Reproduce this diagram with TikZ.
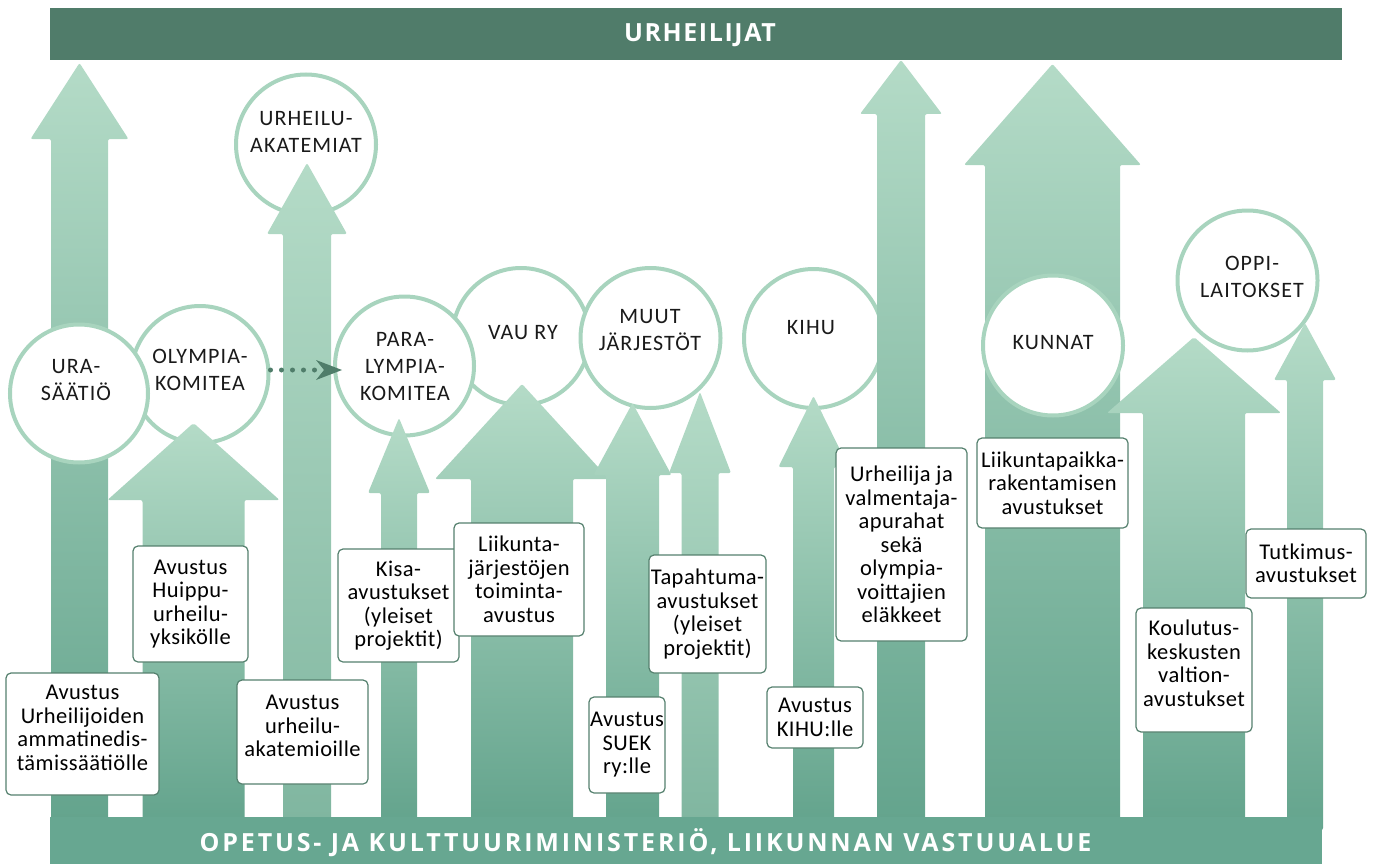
\documentclass[tikz,border=0pt]{standalone}
\usepackage{fontspec}
\setmainfont{Carlito}
\newfontfamily\barfont[LetterSpace=11.4]{Open Sans}
\newfontfamily\topfont[LetterSpace=6.4]{Open Sans}
\newfontfamily\ringfont[LetterSpace=5]{Carlito}
\newfontfamily\boxfont[LetterSpace=2]{Carlito}
\usetikzlibrary{arrows.meta}
\definecolor{barTop}{HTML}{507C6A}
\definecolor{barBot}{HTML}{67A791}
\definecolor{arrLight}{HTML}{B4DBC7}
\definecolor{arrDark}{HTML}{64A48D}
\definecolor{arrMid}{HTML}{80B6A0}
\definecolor{ringc}{HTML}{A8D4BE}
\definecolor{boxline}{HTML}{55806E}
\definecolor{dotc}{HTML}{4F7D6A}
\definecolor{inkc}{HTML}{1A1A1A}
\tikzset{
  ring/.style={circle, draw=ringc, line width=4pt, fill=white, minimum size=#1, inner sep=0pt},
  ctext/.style={align=center, font=\ringfont\fontsize{22}{27}\selectfont, text=inkc, inner sep=0pt},
  fundbox/.style={draw=boxline, line width=1.2pt, fill=white, rounded corners=5pt, align=center,
    font=\boxfont\fontsize{22.5}{23.5}\selectfont, text=black, inner sep=0pt},
  bartext/.style={font=\barfont\bfseries\fontsize{25}{30}\selectfont, text=white, inner sep=0pt},
  toptext/.style={font=\topfont\bfseries\fontsize{25}{30}\selectfont, text=white, inner sep=0pt},
  dotline/.style={draw=dotc, line width=5pt, line cap=round, dash pattern=on 0pt off 11pt,
    -{Stealth[length=26pt, width=20pt, inset=8pt, line width=0pt]}, shorten >=-9pt}
}
% #1 centre x, #2 tip y, #3 head half width, #4 head base y, #5 shaft half width, #6 bottom y, #7 bottom colour
\newcommand{\grarrow}[7]{%
  \path[rounded corners=2pt, top color=arrLight, bottom color=#7]
    (#1,#2) -- ({#1+#3},#4) -- ({#1+#5},#4) -- ({#1+#5},#6) -- ({#1-#5},#6)
    -- ({#1-#5},#4) -- ({#1-#3},#4) -- cycle;}
\begin{document}
\begin{tikzpicture}[x=1pt,y=-1pt]
\useasboundingbox (0,0) rectangle (1375,864);

% top bar
\node[fill=barTop, minimum width=1292pt, minimum height=52pt, inner sep=0pt] (topbar) at (696,34) {};
\node[toptext] (topbar-t) at (700,35) {URHEILIJAT};

% arrow 1 and circles
\grarrow{79.5}{63}{49}{139}{28.5}{820}{arrDark}
\node[ring=137pt] (olym) at (200,374.5) {};
\node[ring=138pt] (ura) at (79,393.5) {};
\node[ctext] (olym-t) at (200,370) {OLYMPIA-\\KOMITEA};
\node[ctext] (ura-t) at (76,380) {URA-\\SÄÄTIÖ};

% arrow 2
\grarrow{193.5}{423}{86}{500}{51}{820}{arrDark}

% akatemiat
\node[ring=140pt] (aka) at (306,144.5) {};
\node[ctext] (aka-t) at (306,132) {URHEILU-\\AKATEMIAT};
\grarrow{307}{163}{40}{234}{24}{820}{arrMid}

% middle circles
\node[ring=137pt] (vau) at (521,336.5) {};
\node[ring=139pt] (para) at (404.5,366) {};
\node[ring=140pt] (muut) at (650.5,338) {};
\node[ctext] (vau-t) at (523,333) {VAU RY};
\node[ctext] (para-t) at (405,367) {PARA-\\LYMPIA-\\KOMITEA};
\node[ctext] (muut-t) at (650,330.5) {MUUT\\JÄRJESTÖT};

% dotted connector
\coordinate (dotrow) at (0,370);
\draw[dotline] (olym.east |- dotrow) -- (para.west |- dotrow);

% arrows 4-7
\grarrow{399}{418}{31}{493}{18}{820}{arrDark}
\grarrow{522}{384}{87}{479}{51}{820}{arrDark}
\grarrow{632.5}{403}{39}{475}{26.5}{820}{arrDark}
\grarrow{700}{392}{31}{473}{18.5}{820}{arrMid}

% KIHU
\node[ring=139pt] (kihu) at (813.5,338.5) {};
\node[ctext] (kihu-t) at (811,328) {KIHU};
\grarrow{813.5}{396}{35}{467}{20.5}{820}{arrDark}
\grarrow{901}{60}{41}{114}{24}{820}{arrDark}

% KUNNAT
\grarrow{1052.5}{64}{88.5}{165}{67.5}{820}{arrDark}
\node[ring=140pt] (kunnat) at (1053,345.5) {};
\node[ctext] (kunnat-t) at (1053,343) {KUNNAT};

% OPPILAITOKSET
\node[ring=140pt] (oppi) at (1247.5,280.5) {};
\node[ctext] (oppi-t) at (1252,276.5) {OPPI-\\LAITOKSET};
\grarrow{1194}{337}{87}{413}{51}{820}{arrDark}
\grarrow{1305}{323}{31}{380}{18}{830}{arrDark}

% bottom bar
\node[fill=barBot, minimum width=1272pt, minimum height=47pt, inner sep=0pt] (botbar) at (686,840.5) {};
\node[bartext] (botbar-t) at (645.5,843) {OPETUS- JA KULTTUURIMINISTERIÖ, LIIKUNNAN VASTUUALUE};

% funding boxes
\node[fundbox, minimum width=153pt, minimum height=122pt, text depth=12pt] (b1) at (82.5,734) {Avustus\\Urheilijoiden\\ammatinedis-\\tämissäätiölle};
\node[fundbox, minimum width=115pt, minimum height=116pt] (b2) at (190.5,604) {Avustus\\Huippu-\\urheilu-\\yksikölle};
\node[fundbox, minimum width=131pt, minimum height=104pt, text depth=12pt] (b3) at (302.5,732) {Avustus\\urheilu-\\akatemioille};
\node[fundbox, minimum width=121pt, minimum height=113pt] (b4) at (398.5,605.5) {Kisa-\\avustukset\\(yleiset\\projektit)};
\node[fundbox, minimum width=130pt, minimum height=113pt] (b5) at (519,579.5) {Liikunta-\\järjestöjen\\toiminta-\\avustus};
\node[fundbox, minimum width=76pt, minimum height=96pt] (b6) at (627,745) {Avustus\\SUEK\\ry:lle};
\node[fundbox, minimum width=117pt, minimum height=118pt] (b7) at (707.5,614) {Tapahtuma-\\avustukset\\(yleiset\\projektit)};
\node[fundbox, minimum width=96pt, minimum height=61pt] (b8) at (815,717.5) {Avustus\\KIHU:lle};
\node[fundbox, minimum width=131pt, minimum height=193pt] (b9) at (901.5,544.5) {Urheilija ja\\valmentaja-\\apurahat\\sekä\\olympia-\\voittajien\\eläkkeet};
\node[fundbox, minimum width=151pt, minimum height=90pt] (b10) at (1052.5,483) {Liikuntapaikka-\\rakentamisen\\avustukset};
\node[fundbox, minimum width=116pt, minimum height=124pt, text depth=14pt] (b11) at (1194,670) {Koulutus-\\keskusten\\valtion-\\avustukset};
\node[fundbox, minimum width=120pt, minimum height=69pt] (b12) at (1306,563.5) {Tutkimus-\\avustukset};
\end{tikzpicture}
\end{document}
